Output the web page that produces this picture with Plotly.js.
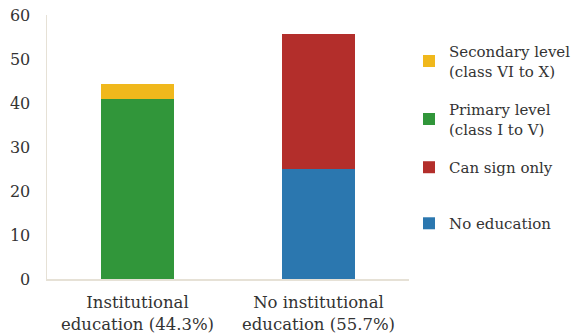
<!DOCTYPE html>
<html>
<head>
<meta charset="utf-8">
<script src="https://cdn.plot.ly/plotly-3.0.1.min.js"></script>
<style>
  html, body { margin: 0; padding: 0; background: #ffffff; }
  #chart { width: 579px; height: 335px; }
</style>
</head>
<body>
<div id="chart"></div>
<script>
// Education status of respondents (%), stacked by level
const categories = ['Institutional<br>education (44.3%)', 'No institutional<br>education (55.7%)'];
const primaryLevel = [40.8, null];
const secondaryLevel = [3.5, null];
const noEducation = [null, 24.9];
const canSignOnly = [null, 30.8];
const yTicks = [0, 10, 20, 30, 40, 50, 60];

const serif = 'DejaVu Serif, serif';
const textColor = '#333333';
const axisColor = '#e6e1d6';

function barTrace(name, values, color, rank, legendId) {
  return {
    type: 'bar',
    name: name,
    x: categories,
    y: values,
    marker: { color: color, line: { width: 0 } },
    legend: legendId,
    legendgroup: name,
    legendrank: rank,
    hoverinfo: 'name+y'
  };
}

const data = [
  barTrace('Primary level<br>(class I to V)', primaryLevel, '#31963a', 2, 'legend'),
  barTrace('Secondary level<br>(class VI to X)', secondaryLevel, '#f0b81c', 1, 'legend'),
  barTrace('No education', noEducation, '#2b77af', 4, 'legend2'),
  barTrace('Can sign only', canSignOnly, '#b32e2b', 3, 'legend')
];

const legendBase = {
  xref: 'container',
  yref: 'container',
  x: 0.7064,
  xanchor: 'left',
  yanchor: 'top',
  traceorder: 'grouped',
  itemwidth: 30,
  font: { family: serif, size: 15, color: textColor },
  bgcolor: 'rgba(0,0,0,0)'
};

const layout = {
  width: 579,
  height: 335,
  margin: { l: 47, r: 167, t: 15, b: 56 },
  paper_bgcolor: '#ffffff',
  plot_bgcolor: '#ffffff',
  barmode: 'stack',
  bargap: 0.6,
  font: { family: serif, size: 16, color: textColor },
  xaxis: {
    showline: true,
    linecolor: axisColor,
    linewidth: 1.5,
    ticks: '',
    showgrid: false,
    ticklabelstandoff: 8,
    tickfont: { family: serif, size: 16.5, color: textColor }
  },
  yaxis: {
    range: [0, 60],
    tickvals: yTicks,
    showline: true,
    linecolor: axisColor,
    linewidth: 1.5,
    showgrid: false,
    zeroline: false,
    ticks: '',
    ticklabelstandoff: 12,
    tickfont: { family: serif, size: 16, color: textColor }
  },
  legend: Object.assign({}, legendBase, { y: 0.8956, tracegroupgap: 16 }),
  legend2: Object.assign({}, legendBase, { y: 0.382 }),
  showlegend: true
};

Plotly.newPlot('chart', data, layout, { displayModeBar: false, staticPlot: true });
</script>
</body>
</html>
